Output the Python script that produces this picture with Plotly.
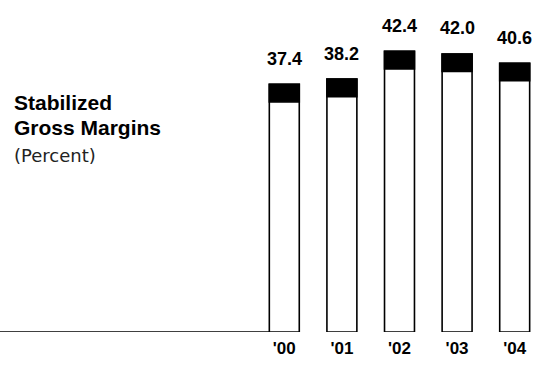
import plotly.graph_objects as go

years = ["'00", "'01", "'02", "'03", "'04"]
margins = [37.4, 38.2, 42.4, 42.0, 40.6]
value_labels = ["37.4", "38.2", "42.4", "42.0", "40.6"]

CAP = 2.65          # height of black cap (style)
BAR_W = 0.52
X_RANGE = [-4.936, 4.37]
Y_MAX = 50.15

fig = go.Figure()
fig.add_trace(go.Bar(
    x=years, y=margins, width=BAR_W,
    marker=dict(color="white", line=dict(color="black", width=1.6)),
    hoverinfo="skip", showlegend=False,
))
fig.add_trace(go.Bar(
    x=years, y=[CAP] * len(margins), base=[m - CAP for m in margins], width=BAR_W,
    marker=dict(color="black", line=dict(color="black", width=1.6)),
    hoverinfo="skip", showlegend=False,
))

for yr, m, lab in zip(years, margins, value_labels):
    fig.add_annotation(x=yr, y=m, text=lab, showarrow=False, yanchor="bottom",
                       yshift=13.5, font=dict(family="Liberation Sans", size=18, color="black", weight="bold"))

# baseline left of the bars
fig.add_shape(type="line", xref="x", yref="y", x0=X_RANGE[0], x1=-BAR_W / 2, y0=0, y1=0,
              line=dict(color="black", width=1.6))

fig.add_annotation(xref="paper", yref="paper", x=12 / 536, y=(332 - 103) / 332, text="<b>Stabilized</b>",
                   showarrow=False, xanchor="left", yanchor="middle",
                   font=dict(family="Liberation Sans", size=21, color="black"))
fig.add_annotation(xref="paper", yref="paper", x=12 / 536, y=(332 - 127) / 332, text="<b>Gross Margins</b>",
                   showarrow=False, xanchor="left", yanchor="middle",
                   font=dict(family="Liberation Sans", size=21, color="black"))
fig.add_annotation(xref="paper", yref="paper", x=12 / 536, y=(332 - 155) / 332, text="(Percent)",
                   showarrow=False, xanchor="left", yanchor="middle",
                   font=dict(family="DejaVu Sans", size=18, color="#222"))

fig.update_layout(
    width=536, height=367,
    margin=dict(l=0, r=0, t=0, b=35),
    paper_bgcolor="white", plot_bgcolor="white",
    barmode="overlay",
    xaxis=dict(type="category", range=X_RANGE, showgrid=False, zeroline=False, showline=False,
               ticks="", ticklabelstandoff=4,
               tickfont=dict(family="Liberation Sans", size=17, color="black", weight="bold")),
    yaxis=dict(range=[0, Y_MAX], visible=False),
)

fig.write_html("out.html", config={"displayModeBar": False},
               post_script="document.body.style.margin='0';document.body.style.padding='0';")
